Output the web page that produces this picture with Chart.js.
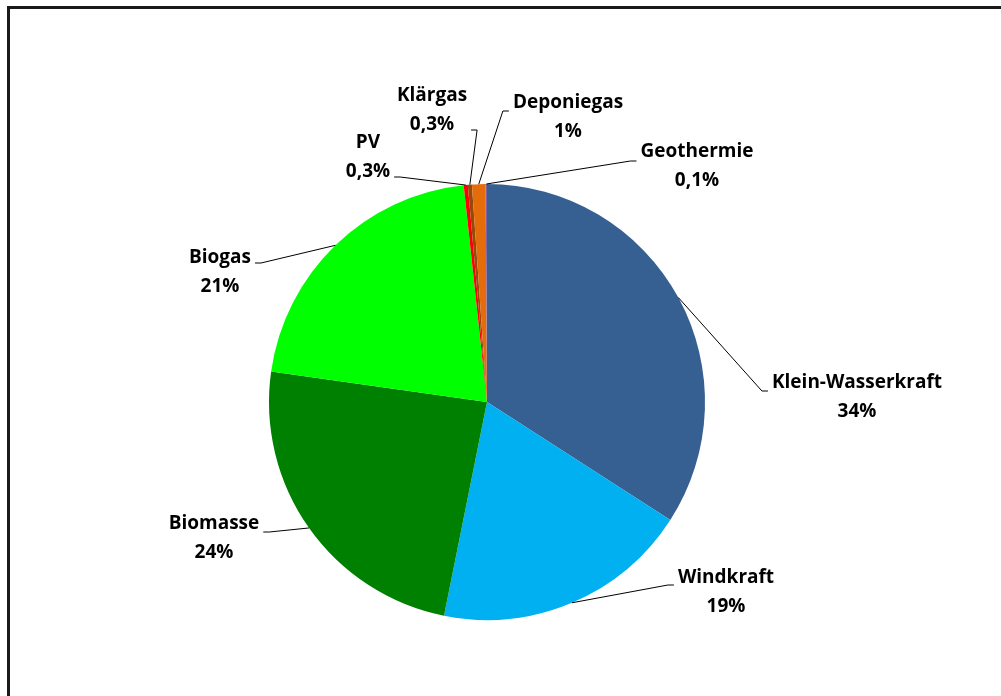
<!DOCTYPE html>
<html>
<head>
<meta charset="utf-8">
<script src="https://cdn.jsdelivr.net/npm/chart.js@4.4.1/dist/chart.umd.min.js"></script>
<style>
  html, body { margin: 0; padding: 0; background: #fff; overflow: hidden; }
  #wrap { position: relative; width: 1001px; height: 696px; }
  #frame { position: absolute; left: 7px; top: 6px; width: 1100px; height: 800px;
           border: 3px solid #1a1a1a; box-sizing: border-box; pointer-events: none; }
  canvas { position: absolute; left: 0; top: 0; }
</style>
</head>
<body>
<div id="wrap">
  <canvas id="c" width="1001" height="696"></canvas>
  <div id="frame"></div>
</div>
<script>
// Anteile der erneuerbaren Energieträger (in %)
const categories = ['Klein-Wasserkraft', 'Windkraft', 'Biomasse', 'Biogas', 'PV', 'Klärgas', 'Deponiegas', 'Geothermie'];
const shares = [34, 19, 24, 21, 0.3, 0.3, 1, 0.1];
const sliceColors = ['#376092', '#00B0F0', '#008000', '#00FF00', '#FF0000', '#984807', '#E46C0A', '#8064A2'];

// Label placement relative to the pie centre (px): text centre of first line,
// which side the leader line attaches to, and the attach height below line 1.
const labelLayout = [
  { dx: 370, dy: -19, side: 'left',  ay: 8 },
  { dx: 239, dy: 176, side: 'left',  ay: 7 },
  { dx: -273, dy: 122, side: 'right', ay: 8 },
  { dx: -267, dy: -144, side: 'right', ay: 5 },
  { dx: -119, dy: -259, side: 'right', ay: 34 },
  { dx: -55, dy: -306, side: 'right', ay: 34 },
  { dx: 81, dy: -299, side: 'left',  ay: 8 },
  { dx: 210, dy: -250, side: 'left',  ay: 9 }
];

const FONT = 'bold 19px "Open Sans", Lato, sans-serif';
const LINE_H = 28.5;

function pct(v) { return String(v).replace('.', ',') + '%'; }

const leaderLabels = {
  id: 'leaderLabels',
  afterDatasetsDraw(chart) {
    const ctx = chart.ctx;
    const meta = chart.getDatasetMeta(0);
    ctx.save();
    ctx.font = FONT;
    ctx.fillStyle = '#000';
    ctx.strokeStyle = '#000';
    ctx.lineWidth = 1;
    ctx.textAlign = 'center';
    ctx.textBaseline = 'middle';
    meta.data.forEach((arc, i) => {
      const p = arc.getProps(['x', 'y', 'startAngle', 'endAngle', 'outerRadius'], true);
      const L = labelLayout[i];
      const tx = p.x + L.dx, ty = p.y + L.dy;
      const line1 = categories[i], line2 = pct(shares[i]);
      const w = Math.max(ctx.measureText(line1).width, ctx.measureText(line2).width);
      // leader line: slice edge (mid angle) -> elbow -> label side
      const mid = (p.startAngle + p.endAngle) / 2;
      const ex = p.x + Math.cos(mid) * p.outerRadius;
      const ey = p.y + Math.sin(mid) * p.outerRadius;
      const ax = L.side === 'left' ? tx - w / 2 - 4 : tx + w / 2 + 4;
      const ay = ty + L.ay;
      const elbowX = L.side === 'left' ? ax - 6 : ax + 6;
      ctx.beginPath();
      ctx.moveTo(ex, ey);
      ctx.lineTo(elbowX, ay);
      ctx.lineTo(ax, ay);
      ctx.stroke();
      ctx.fillText(line1, tx, ty);
      ctx.fillText(line2, tx, ty + LINE_H);
    });
    ctx.restore();
  }
};

new Chart(document.getElementById('c'), {
  type: 'pie',
  data: {
    labels: categories,
    datasets: [{
      data: shares,
      backgroundColor: sliceColors,
      borderWidth: 0
    }]
  },
  options: {
    responsive: false,
    animation: false,
    layout: { padding: { left: 269, right: 296, top: 184, bottom: 76 } },
    plugins: { legend: { display: false }, tooltip: { enabled: false } }
  },
  plugins: [leaderLabels]
});
</script>
</body>
</html>
